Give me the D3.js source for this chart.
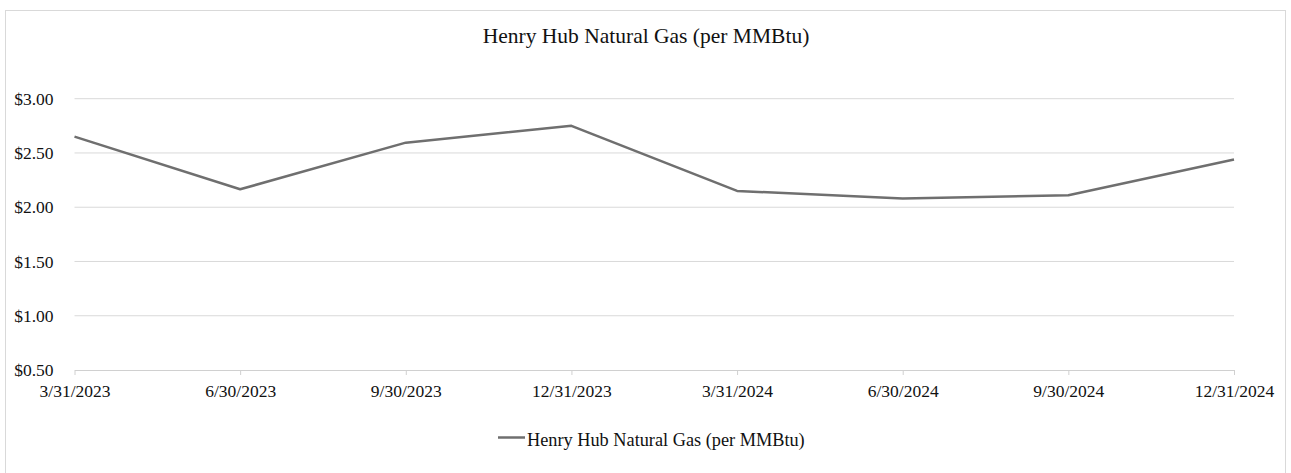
<!DOCTYPE html>
<html lang="en">

<head>
    <meta charset="UTF-8" />
    <title>Henry Hub Natural Gas</title>
    <style>
        body {
            margin: 0;
            background: #fff;
        }

        svg text {
            font-family: "Liberation Serif", "Times New Roman", serif;
            fill: #111;
        }
    </style>
</head>

<body>
    <div id="container"></div>
</body>
<script src="https://cdnjs.cloudflare.com/ajax/libs/d3/7.1.1/d3.min.js"></script>
<script>
    let dates = ["3/31/2023", "6/30/2023", "9/30/2023", "12/31/2023",
        "3/31/2024", "6/30/2024", "9/30/2024", "12/31/2024"],
        prices = [2.65, 2.165, 2.595, 2.75, 2.15, 2.08, 2.11, 2.44],
        yTicks = [0.5, 1.0, 1.5, 2.0, 2.5, 3.0],
        seriesName = "Henry Hub Natural Gas (per MMBtu)";

    let width = 1291, height = 473;
    let plotL = 74.5, plotR = 1234, plotT = 98.7, plotB = 370;

    let x = d3.scalePoint().domain(dates).range([plotL, plotR]);
    let y = d3.scaleLinear().domain([0.5, 3.0]).range([plotB, plotT]);

    let svg = d3.select("#container").append("svg")
        .attr("width", width).attr("height", height);

    // outer frame
    svg.append("rect")
        .attr("x", 5.5).attr("y", 10.5)
        .attr("width", 1280).attr("height", 480)
        .attr("fill", "none").attr("stroke", "#d9d9d9").attr("stroke-width", 1);

    // gridlines
    svg.append("g").selectAll("line").data(yTicks.slice(1)).enter().append("line")
        .attr("x1", plotL).attr("x2", plotR)
        .attr("y1", d => y(d)).attr("y2", d => y(d))
        .attr("stroke", "#d9d9d9").attr("stroke-width", 1);

    // y axis labels
    let yAxis = d3.axisLeft(y).tickValues(yTicks)
        .tickFormat(d => "$" + d3.format(".2f")(d))
        .tickSize(0).tickPadding(21);
    let gy = svg.append("g").attr("transform", `translate(${plotL},0)`).call(yAxis);
    gy.select(".domain").remove();
    gy.selectAll("text").style("font-size", "17.5px")
        .style("font-family", "'Liberation Serif', serif").attr("fill", "#111");

    // x axis
    let xAxis = d3.axisBottom(x).tickSize(5).tickPadding(10).tickSizeOuter(0);
    let gx = svg.append("g").attr("transform", `translate(0,${plotB})`).call(xAxis);
    gx.select(".domain").attr("stroke", "#d0d0d0");
    gx.selectAll(".tick line").attr("stroke", "#d0d0d0");
    gx.selectAll("text").style("font-size", "17.5px")
        .style("font-family", "'Liberation Serif', serif").attr("fill", "#111");

    // series line
    let line = d3.line().x((d, i) => x(dates[i])).y(d => y(d));
    svg.append("path").datum(prices)
        .attr("d", line)
        .attr("fill", "none")
        .attr("stroke", "#6f6f6f")
        .attr("stroke-width", 2.5)
        .attr("stroke-linejoin", "round");

    // title
    svg.append("text").attr("x", 646).attr("y", 43)
        .attr("text-anchor", "middle").style("font-size", "21.5px")
        .text(seriesName);

    // legend
    let lg = svg.append("g");
    lg.append("line").attr("x1", 498).attr("x2", 525)
        .attr("y1", 437.5).attr("y2", 437.5)
        .attr("stroke", "#6f6f6f").attr("stroke-width", 2.5);
    lg.append("text").attr("x", 527).attr("y", 446)
        .style("font-size", "18.3px").text(seriesName);
</script>

</html>
